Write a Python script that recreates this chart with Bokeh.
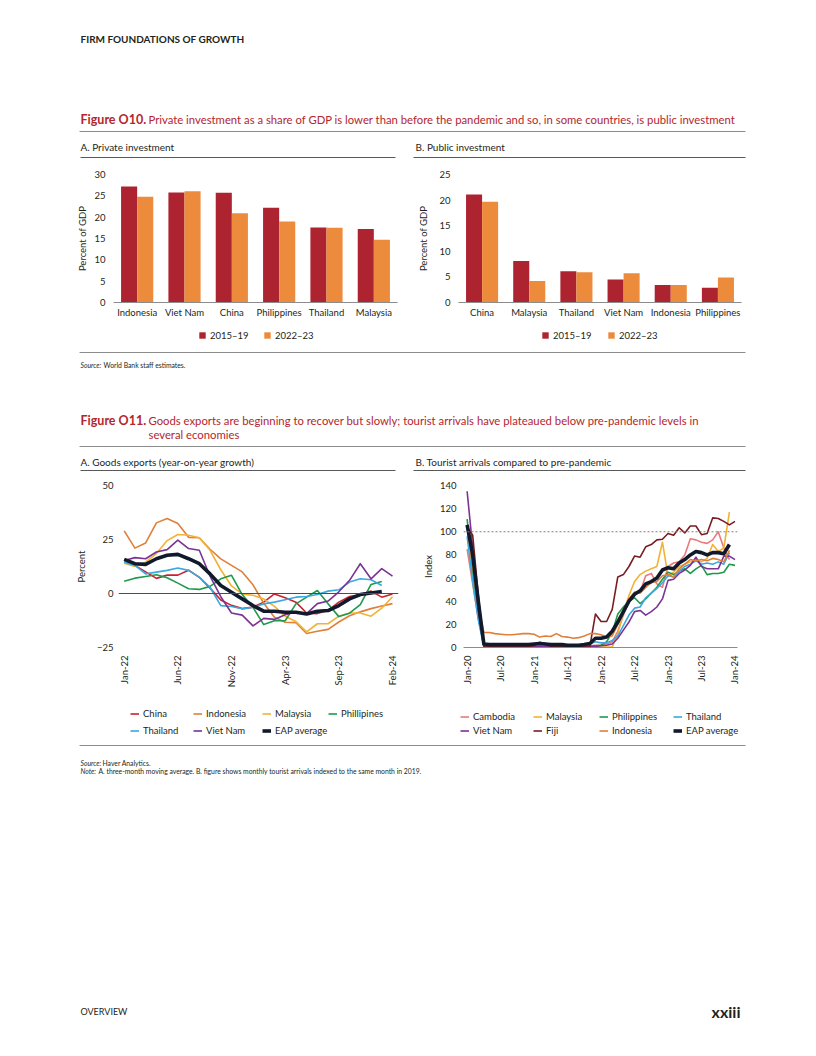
import numpy as np
from bokeh.plotting import figure
from bokeh.models import (Range1d, FactorRange, ColumnDataSource, Legend, LegendItem,
                          Span, FixedTicker, Spacer)
from bokeh.layouts import column, row
from bokeh.transform import dodge
from bokeh.core.properties import value
from bokeh.embed import file_html
from bokeh.resources import INLINE

# ------------------------------------------------------------------ data
priv_countries = ["Indonesia", "Viet Nam", "China", "Philippines", "Thailand", "Malaysia"]
priv_2015_19 = [27.2, 25.8, 25.7, 22.2, 17.6, 17.2]
priv_2022_23 = [24.8, 26.1, 20.9, 19.0, 17.5, 14.7]

pub_countries = ["China", "Malaysia", "Thailand", "Viet Nam", "Indonesia", "Philippines"]
pub_2015_19 = [21.1, 8.1, 6.1, 4.5, 3.4, 2.9]
pub_2022_23 = [19.7, 4.2, 5.9, 5.7, 3.4, 4.9]

period_labels = ["2015–19", "2022–23"]

export_months = ["Jan-22", "Feb-22", "Mar-22", "Apr-22", "May-22", "Jun-22", "Jul-22",
                 "Aug-22", "Sep-22", "Oct-22", "Nov-22", "Dec-22", "Jan-23", "Feb-23",
                 "Mar-23", "Apr-23", "May-23", "Jun-23", "Jul-23", "Aug-23", "Sep-23",
                 "Oct-23", "Nov-23", "Dec-23", "Jan-24", "Feb-24"]
exp_china = [15.5, 13.0, 10.0, 7.0, 8.5, 8.5, 10.8, 7.5, 2.5, -3.0, -5.5, -7.0, -6.3,
             -4.0, -0.2, -2.0, -4.0, -9.0, -9.3, -7.8, -4.0, -1.4, -0.5, 1.1, -1.7, -0.2]
exp_indonesia = [29.0, 21.0, 23.4, 32.7, 34.7, 32.4, 26.0, 25.8, 20.5, 16.0, 13.0, 10.0,
                 4.0, -4.5, -11.0, -13.3, -13.5, -18.5, -17.5, -16.6, -13.2, -10.3, -8.5,
                 -7.0, -5.8, -4.7]
exp_malaysia = [14.0, 12.5, 14.5, 18.5, 24.5, 27.3, 27.0, 25.8, 20.0, 11.0, 3.5, -0.3,
                -0.8, -2.5, -6.0, -10.5, -13.0, -17.8, -14.0, -14.0, -10.5, -9.0, -9.0,
                -10.5, -6.8, -1.5]
exp_philippines = [5.7, 7.1, 7.9, 8.7, 7.3, 4.8, 2.2, 1.9, 3.3, 6.8, 8.4, -0.5, -6.4,
                   -14.4, -12.6, -12.6, -4.8, -1.7, 1.4, -4.8, -10.7, -9.1, -5.1, 4.2, 5.6]
exp_thailand = [14.5, 13.0, 9.1, 9.9, 10.7, 11.8, 10.7, 7.6, 2.9, -5.6, -6.0, -7.1, -6.4,
                -4.8, -4.0, -2.9, -1.7, -1.4, -0.5, 1.1, 1.7, 5.3, 6.8, 6.4, 3.7]
exp_vietnam = [15.3, 16.6, 16.1, 19.2, 20.3, 24.7, 20.8, 20.0, 8.0, -1.5, -9.0, -10.0,
               -15.0, -11.5, -12.0, -9.8, -8.5, -9.3, -4.7, -3.5, 0.8, 6.1, 13.8, 6.8,
               11.5, 8.0]
exp_eap = [15.8, 13.8, 13.5, 16.1, 17.7, 18.1, 16.1, 13.8, 9.1, 3.7, 0.6, -2.5, -5.6,
           -8.2, -8.2, -8.7, -8.7, -9.5, -8.2, -7.9, -5.6, -2.5, -0.5, 0.2, 0.9]
export_ticks = ["Jan-22", "Jun-22", "Nov-22", "Apr-23", "Sep-23", "Feb-24"]

MON = ["Jan", "Feb", "Mar", "Apr", "May", "Jun", "Jul", "Aug", "Sep", "Oct", "Nov", "Dec"]
tourist_months = [f"{m}-{y}" for y in ("20", "21", "22", "23") for m in MON] + ["Jan-24"]
tour_cambodia = [85, 55, 25,
                 2, 1, 1, 1, 1, 1, 1, 1, 1, 1, 1, 1, 1, 1, 1, 1, 1, 1, 1, 1.5, 2, 2,
                 3, 5, 14, 28, 40, 47, 48, 62, 64, 55, 52, 70, 73, 74, 80, 94, 93, 91,
                 90, 93, 100, 86, 76]
tour_malaysia = [106, 72, 30,
                 0.3, 0.3, 0.3, 0.3, 0.3, 0.3, 0.3, 0.3, 0.3, 0.3, 0.3, 0.3, 0.3, 0.3,
                 0.3, 0.3, 0.3, 0.3, 0.3, 0.3, 0.3, 0.3, 0.3, 0.3,
                 12, 30, 45, 57, 63, 66, 68, 70, 91, 62, 65, 70, 72, 74, 76, 74, 77, 89,
                 83, 86, 117]
tour_philippines = [111, 65, 28,
                    1, 0.5, 0.5, 0.5, 0.5, 0.5, 0.5, 0.5, 0.5, 0.5, 0.5, 0.5, 0.5, 0.5,
                    0.5, 0.5, 0.5, 0.5, 0.5, 1, 1.5, 2,
                    5, 13, 29, 35, 40, 43, 38, 42, 47, 52, 59, 65, 63, 66, 68, 64, 68,
                    71, 63, 64, 64, 65, 72, 71]
tour_thailand = [96, 57, 24,
                 0.3, 0.3, 0.3, 0.3, 0.3, 0.3, 0.3, 0.3, 0.3, 0.3, 0.3, 0.3, 0.3, 0.3,
                 0.3, 0.3, 0.3,
                 1, 1.5, 3, 5, 4, 4, 6, 10, 19, 28, 34, 35, 43, 47, 51, 56, 62, 61, 66,
                 70, 72, 75, 72, 73, 72, 74, 72, 82]
tour_vietnam = [135, 86, 32,
                1.5, 1, 1, 1, 1, 1, 1, 1, 1, 1, 1, 1, 1, 1, 1, 1, 1, 1, 1, 1, 1, 1.5, 2,
                3, 8, 15, 22, 31, 32, 28, 31, 35, 42, 58, 59, 64, 67, 71, 78, 70, 68,
                68, 68, 79, 79, 76]
tour_fiji = [104, 97, 45,
             1, 0.5, 0.5, 0.5, 0.5, 0.5, 0.5, 1, 1, 1.5, 4.5, 3.5, 1, 1, 0.5, 0.5,
             0.5, 0.5, 0.5, 1,
             29, 22.5, 22.5, 33, 61, 63, 70, 79, 78, 87, 89, 93, 93.5, 98.5, 97, 103.5,
             99, 105, 105, 97.5, 98.5, 112, 111.5, 109, 106, 109]
tour_indonesia = [104, 70, 35,
                  13, 13, 12, 11.5, 11, 11, 11.5, 12, 12, 11.5, 9, 10, 9.5, 12, 9.5, 9,
                  8, 8.5, 10, 12, 12, 11,
                  9, 10, 20, 30, 42, 48, 47, 52, 56, 57, 62, 63, 61, 68, 72, 76, 75, 76,
                  75, 77, 76, 74, 84]
tour_eap = [106, 80, 40, 3, 2.5, 2.5, 2.5, 2.5, 2.5, 2.5, 2.5, 2.5,
            3, 3.5, 3, 2.5, 2.5, 2.5, 2, 2, 2, 2.5, 3.5, 8,
            8, 9, 14, 22, 31, 40, 46, 49, 55, 57, 60, 67,
            69, 68, 73, 76, 80, 83, 82, 80, 82, 82, 81, 89]
pre_pandemic_level = 100

# ------------------------------------------------------------------ style
FONT = "Lato"
RED_T = "#B4262D"
DARK = "#AE2330"
ORANGE = "#EC8B3B"
TXT = "#231F20"
C = dict(china="#C9222F", indonesia="#E07F3A", malaysia="#F2B233", philippines="#1F9A4C",
         thailand="#3AA9DD", vietnam="#7B3394", eap="#111A2C", cambodia="#E8797F",
         fiji="#7A1D22")
LEG_H = 12
NAN = float("nan")
BAND_POS = {}


def band(y0, y1):
    p = figure(width=800, height=y1 - y0, x_range=Range1d(0, 800), y_range=Range1d(y1, y0),
               x_axis_type=None, y_axis_type=None, output_backend="svg",
               toolbar_location=None, min_border=0)
    p.grid.visible = False
    p.outline_line_color = None
    BAND_POS[p.id] = (y0, y1 - y0)
    return p


def txt(p, x, y, s, size, color=TXT, style="normal", align="left"):
    p.text(x=[x], y=[y], text=[s], text_font=value(FONT), text_font_size=f"{size}px",
           text_color=color, text_font_style=style, text_align=align,
           text_baseline="middle")


def rule(p, x0, x1, y, color="#6d6e71", w=1):
    p.segment(x0=[x0], y0=[y], x1=[x1], y1=[y], line_color=color, line_width=w)


def band_legend(b, key, label, x, y, glyph_w=9, glyph_h=9):
    """One legend entry drawn in band `b` at page position (x, y centre).
    `key` is an undrawn (NaN) renderer carrying the series style."""
    y0, h = BAND_POS[b.id]
    lg = Legend(items=[LegendItem(label=label, renderers=[key])],
                location=(x, h - (y - y0) - LEG_H / 2), orientation="horizontal",
                label_text_font=FONT, label_text_font_size="9.5px",
                label_text_color=TXT, glyph_width=glyph_w, glyph_height=glyph_h,
                label_height=LEG_H, label_standoff=4, spacing=0, padding=0, margin=0,
                border_line_color=None, background_fill_alpha=0)
    b.add_layout(lg)


def chart(xr, yr, fw, fh, lb, rb, tb, bb):
    p = figure(x_range=xr, y_range=yr, width=lb + fw + rb, height=tb + fh + bb,
               min_border_left=lb, min_border_right=rb, min_border_top=tb,
               min_border_bottom=bb, output_backend="svg", toolbar_location=None)
    p.outline_line_color = None
    p.grid.visible = False
    for ax in p.axis:
        ax.major_tick_line_color = None
        ax.minor_tick_line_color = None
        ax.major_tick_out = 0
        ax.major_tick_in = 0
        ax.minor_tick_out = 0
        ax.major_label_text_font = FONT
        ax.major_label_text_font_size = "9.5px"
        ax.major_label_text_color = TXT
        ax.axis_label_text_font = FONT
        ax.axis_label_text_font_size = "9.5px"
        ax.axis_label_text_font_style = "normal"
        ax.axis_label_text_color = TXT
    p.yaxis.axis_line_color = None
    p.xaxis.axis_line_color = "#8c8c8c"
    return p


# ------------------------------------------------------------------ bar charts
def bar_chart(countries, v1, v2, ymax, fw, lb, standoff_label):
    src = ColumnDataSource(dict(country=countries, a=v1, b=v2))
    p = chart(FactorRange(factors=countries), Range1d(0, ymax), fw, 128, lb, 4, 14, 20)
    p.vbar(x=dodge("country", -0.17, range=p.x_range), top="a", width=0.34,
           source=src, fill_color=DARK, line_color=None)
    p.vbar(x=dodge("country", 0.17, range=p.x_range), top="b", width=0.34,
           source=src, fill_color=ORANGE, line_color=None)
    p.yaxis.ticker = FixedTicker(ticks=list(range(0, ymax + 1, 5)), minor_ticks=[])
    p.yaxis.axis_label = "Percent of GDP"
    p.yaxis.major_label_standoff = 8
    p.yaxis.axis_label_standoff = standoff_label
    p.xaxis.major_label_standoff = 4
    return p


# frames: A 113..397 (page x), B 456..741; both 174..302 (page y)
pA = bar_chart(priv_countries, priv_2015_19, priv_2022_23, 30, 284, 41, 3)
pB = bar_chart(pub_countries, pub_2015_19, pub_2022_23, 25, 285, 41, 7)

# ------------------------------------------------------------------ exports
# frame 117..398 x, 485..647 y
pC = chart(Range1d(-0.53, 25.56), Range1d(-25, 50), 281, 162, 45, 5, 11, 53)
pC.xaxis.axis_line_color = None
pC.add_layout(Span(location=0, dimension="width", line_color="#4d4d4d", line_width=1))
exp_series = [("China", exp_china, C["china"], 1.6, 130, 713),
              ("Indonesia", exp_indonesia, C["indonesia"], 1.6, 193, 713),
              ("Malaysia", exp_malaysia, C["malaysia"], 1.6, 262, 713),
              ("Phillipines", exp_philippines, C["philippines"], 1.6, 328, 713),
              ("Thailand", exp_thailand, C["thailand"], 1.6, 130, 730),
              ("Viet Nam", exp_vietnam, C["vietnam"], 1.6, 193, 730),
              ("EAP average", exp_eap, C["eap"], 3.6, 262, 730)]
for name, vals, col, w, _, _ in exp_series:
    pC.line(x=list(range(len(vals))), y=vals, line_color=col, line_width=w,
            line_join="round")
pC.xaxis.ticker = FixedTicker(ticks=[export_months.index(t) for t in export_ticks],
                              minor_ticks=[])
pC.xaxis.major_label_overrides = {export_months.index(t): t for t in export_ticks}
pC.xaxis.major_label_orientation = np.pi / 2
pC.xaxis.major_label_standoff = 8
pC.yaxis.ticker = FixedTicker(ticks=[-25, 0, 25, 50], minor_ticks=[])
pC.yaxis.major_label_overrides = {-25: "\u221225"}
pC.yaxis.axis_label = "Percent"
pC.yaxis.major_label_standoff = 5
pC.yaxis.axis_label_standoff = 7

# ------------------------------------------------------------------ tourists
# frame 463..737 x, 484..656 y
pD = chart(Range1d(-0.65, 48.45), Range1d(0, 140), 274, 172, 50, 5, 10, 44)
pD.add_layout(Span(location=pre_pandemic_level, dimension="width", line_color="#7f7f7f",
                   line_width=1, line_dash="2 2"))
tour_series = [("Cambodia", tour_cambodia, C["cambodia"], 1.6, 460, 716),
               ("Malaysia", tour_malaysia, C["malaysia"], 1.6, 533, 716),
               ("Philippines", tour_philippines, C["philippines"], 1.6, 599, 716),
               ("Thailand", tour_thailand, C["thailand"], 1.6, 673, 716),
               ("Viet Nam", tour_vietnam, C["vietnam"], 1.6, 460, 730),
               ("Fiji", tour_fiji, C["fiji"], 1.6, 533, 730),
               ("Indonesia", tour_indonesia, C["indonesia"], 1.6, 599, 730),
               ("EAP average", tour_eap, C["eap"], 3.6, 673, 730)]
for name, vals, col, w, _, _ in tour_series:
    pD.line(x=list(range(len(vals))), y=vals, line_color=col, line_width=w,
            line_join="round")
tour_tick_idx = list(range(0, len(tourist_months), 6))
pD.xaxis.ticker = FixedTicker(ticks=tour_tick_idx, minor_ticks=[])
pD.xaxis.major_label_overrides = {i: tourist_months[i] for i in tour_tick_idx}
pD.xaxis.major_label_orientation = np.pi / 2
pD.xaxis.major_label_standoff = 8
pD.yaxis.ticker = FixedTicker(ticks=list(range(0, 141, 20)), minor_ticks=[])
pD.yaxis.axis_label = "Index"
pD.yaxis.major_label_standoff = 7
pD.yaxis.axis_label_standoff = 3

# ------------------------------------------------------------------ page bands
b1 = band(0, 160)
txt(b1, 80, 38, "FIRM FOUNDATIONS OF GROWTH", 10, TXT, "bold")
txt(b1, 80, 119, "Figure O10.", 12.5, RED_T, "bold")
txt(b1, 148, 119, "Private investment as a share of GDP is lower than before the pandemic "
    "and so, in some countries, is public investment", 11.3, RED_T)
rule(b1, 79, 745, 131, "#8c8c8c")
txt(b1, 80, 146, "A. Private investment", 10, TXT)
txt(b1, 415, 146, "B. Public investment", 10, TXT)
rule(b1, 80, 395, 157, "#58595b")
rule(b1, 413, 745, 157, "#58595b")

b2 = band(322, 474)
# legend keys for the bar charts (same styles as the bars above, never drawn)
for lx, color, lab in [(198, DARK, period_labels[0]), (263, ORANGE, period_labels[1]),
                       (541, DARK, period_labels[0]), (607, ORANGE, period_labels[1])]:
    key = b2.vbar(x=[NAN], top=[NAN], width=1, fill_color=color, line_color=None)
    band_legend(b2, key, lab, lx, 335, 8, 8)
rule(b2, 79, 745, 352, "#8c8c8c")
txt(b2, 80, 364, "Source:", 6.8, TXT, "italic")
txt(b2, 103, 364, "World Bank staff estimates.", 6.8, TXT)
txt(b2, 80, 420, "Figure O11.", 12.5, RED_T, "bold")
txt(b2, 148, 420, "Goods exports are beginning to recover but slowly; tourist arrivals have "
    "plateaued below pre-pandemic levels in", 11.3, RED_T)
txt(b2, 148, 434, "several economies", 11.3, RED_T)
rule(b2, 79, 745, 446, "#8c8c8c")
txt(b2, 80, 461, "A. Goods exports (year-on-year growth)", 10, TXT)
txt(b2, 415, 461, "B. Tourist arrivals compared to pre-pandemic", 10, TXT)
rule(b2, 80, 395, 470, "#58595b")
rule(b2, 413, 745, 470, "#58595b")

b3 = band(700, 1048)
for name, vals, col, w, lx, ly in exp_series + tour_series:
    key = b3.line(x=[NAN, NAN], y=[NAN, NAN], line_color=col, line_width=w)
    band_legend(b3, key, name, lx, ly)
rule(b3, 79, 745, 745, "#8c8c8c")
txt(b3, 80, 762, "Source:", 6.8, TXT, "italic")
txt(b3, 102, 762, "Haver Analytics.", 6.8, TXT)
txt(b3, 80, 770, "Note:", 6.8, TXT, "italic")
txt(b3, 98, 770, "A. three-month moving average. B. figure shows monthly tourist arrivals "
    "indexed to the same month in 2019.", 6.8, TXT)
txt(b3, 80, 1011, "OVERVIEW", 9, TXT)
txt(b3, 740, 1011, "xxiii", 16, TXT, "bold", "right")

row1 = row(Spacer(width=72, height=162), pA, Spacer(width=14, height=162), pB)
row2 = row(Spacer(width=72, height=226), pC, Spacer(width=10, height=226), pD)
page = column(b1, row1, b2, row2, b3)

open("out.html", "w").write(file_html(page, INLINE))
